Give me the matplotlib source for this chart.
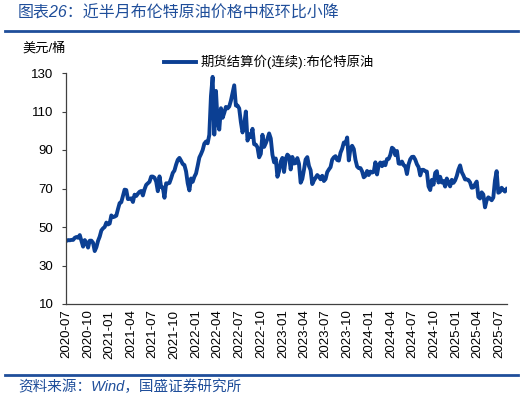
import pandas as pd
import matplotlib
matplotlib.use("Agg")
import matplotlib.pyplot as plt
import matplotlib.dates as mdates
from matplotlib.lines import Line2D

plt.rcParams['font.family'] = ['Liberation Sans', 'Noto Sans CJK SC', 'DejaVu Sans']

# 布伦特原油期货结算价（周度取样，读自原图）
brent_2020 = [42.8, 43.2, 43.1, 43.3, 43.3,
              44.4, 44.8, 44.4, 45.8,
              42.7, 39.8, 43.2, 41.9,
              39.3, 42.9, 42.9, 41.8, 37.5,
              39.5, 42.8, 45.0, 48.2,
              49.3, 50.0, 52.3, 51.3]
brent_2021 = [51.8, 56.0, 55.1, 55.4, 55.9,
              59.3, 62.4, 62.9, 66.1,
              69.4, 69.2, 64.5, 64.6,
              64.9, 63.0, 66.8, 66.1, 67.3,
              68.3, 68.7, 66.4, 69.6,
              71.9, 72.7, 73.5, 76.2,
              76.2, 75.6, 73.6, 68.6, 76.3,
              70.7, 70.6, 65.2, 72.7,
              72.6, 72.9, 75.3, 78.1,
              79.3, 82.4, 84.9, 85.9, 84.4,
              82.7, 82.2, 78.9, 72.7,
              69.0, 75.2, 73.5, 76.1, 77.8]
brent_2022 = [81.8, 86.1, 87.9, 90.0,
              93.3, 94.4, 93.5, 97.9,
              118.1, 128.0, 98.0, 120.7,
              104.4, 100.6, 111.7, 106.7, 109.3,
              112.4, 111.6, 112.6, 115.6,
              119.7, 123.6, 113.1, 113.1,
              111.6, 104.5, 99.1, 103.2, 110.0,
              94.9, 98.2, 96.7, 101.0,
              93.0, 92.8, 91.4, 86.2, 88.0,
              97.9, 91.6, 93.5, 95.8,
              98.6, 96.0, 87.6, 83.6,
              85.6, 76.1, 79.0, 83.9, 85.9]
brent_2023 = [78.6, 85.3, 87.6, 86.7,
              79.9, 86.4, 83.0, 83.2,
              85.8, 82.8, 73.0, 75.0, 79.8,
              85.1, 86.3, 81.7, 79.5,
              72.3, 74.2, 75.6, 77.0,
              76.1, 74.8, 76.6, 73.9, 74.9,
              78.5, 79.9, 81.1, 85.0,
              86.2, 86.8, 84.8, 84.5,
              88.6, 90.7, 93.9, 93.3, 96.5,
              84.6, 90.9, 92.2, 90.5,
              84.9, 81.4, 80.6, 80.6,
              78.9, 75.8, 76.6, 79.1, 77.0]
brent_2024 = [78.8, 78.3, 78.6, 83.6,
              77.3, 82.2, 83.5, 81.6,
              83.6, 82.1, 85.3, 85.4, 87.5,
              91.2, 90.5, 87.3, 89.5,
              83.0, 82.8, 84.0, 82.1, 81.6,
              77.5, 82.6, 85.2, 86.4,
              86.5, 85.0, 82.6, 81.1,
              76.8, 79.7, 79.7, 79.0, 78.8,
              71.1, 69.2, 74.5, 72.0,
              78.1, 79.0, 73.1, 76.1,
              73.1, 73.9, 71.0, 75.2, 72.9,
              71.1, 74.5, 72.9, 74.2]
brent_2025 = [76.5, 79.8, 82.0, 78.5, 76.8,
              74.7, 74.7, 74.4, 73.2,
              70.4, 70.6, 72.2, 73.6,
              65.6, 64.8, 68.0, 66.9,
              60.2, 63.9, 65.4, 64.8, 63.9,
              65.3, 74.2, 79.0, 67.8,
              68.3, 70.4, 69.3, 68.4,
              69.7]

values = brent_2020 + brent_2021 + brent_2022 + brent_2023 + brent_2024 + brent_2025
dates = pd.date_range("2020-07-03", periods=len(values), freq="W-FRI")

tick_dates = pd.date_range("2020-07-01", "2025-07-01", freq="QS-JUL")
y_ticks = [10, 30, 50, 70, 90, 110, 130]

title = "图表26：近半月布伦特原油价格中枢环比小降"
series_name = "期货结算价(连续):布伦特原油"
unit = "美元/桶"
source = "资料来源：Wind，国盛证券研究所"

blue = "#1f4e9a"
line_blue = "#0b3f93"

fig = plt.figure(figsize=(5.26, 4.0), dpi=100)
ax = fig.add_axes([0.1255, 0.24, 0.8385, 0.5775])

ax.plot(dates, values, color=line_blue, lw=2.8, solid_joinstyle="round", label=series_name)

ax.set_ylim(10, 130)
ax.set_yticks(y_ticks)
ax.set_xlim(pd.Timestamp("2020-07-01"), pd.Timestamp("2025-08-03"))
ax.set_xticks(tick_dates)
ax.xaxis.set_major_formatter(mdates.DateFormatter("%Y-%m"))
plt.setp(ax.get_xticklabels(), rotation=90)
ax.tick_params(axis="x", length=0, labelsize=9.5, pad=4)
ax.tick_params(axis="y", length=3, labelsize=9.5, pad=6, color="#404040")

for s in ["top", "right"]:
    ax.spines[s].set_visible(False)
for s in ["left", "bottom"]:
    ax.spines[s].set_color("#404040")
    ax.spines[s].set_linewidth(0.9)

ax.legend(loc="upper center", bbox_to_anchor=(0.46, 1.13), frameon=False,
          fontsize=9.6, handlelength=2.4, handletextpad=0.3)

fig.text(0.034, 0.967, title, color=blue, fontsize=11.5, style="italic", va="center")
fig.add_artist(Line2D([0.01, 0.985], [0.922, 0.922], color=blue, lw=2))
fig.text(0.042, 0.88, unit, fontsize=9.5, va="center")
fig.add_artist(Line2D([0.01, 0.985], [0.0625, 0.0625], color=blue, lw=2))
fig.text(0.034, 0.032, source, color=blue, fontsize=10.5, style="italic", va="center")

fig.savefig("out.png", dpi=100)
